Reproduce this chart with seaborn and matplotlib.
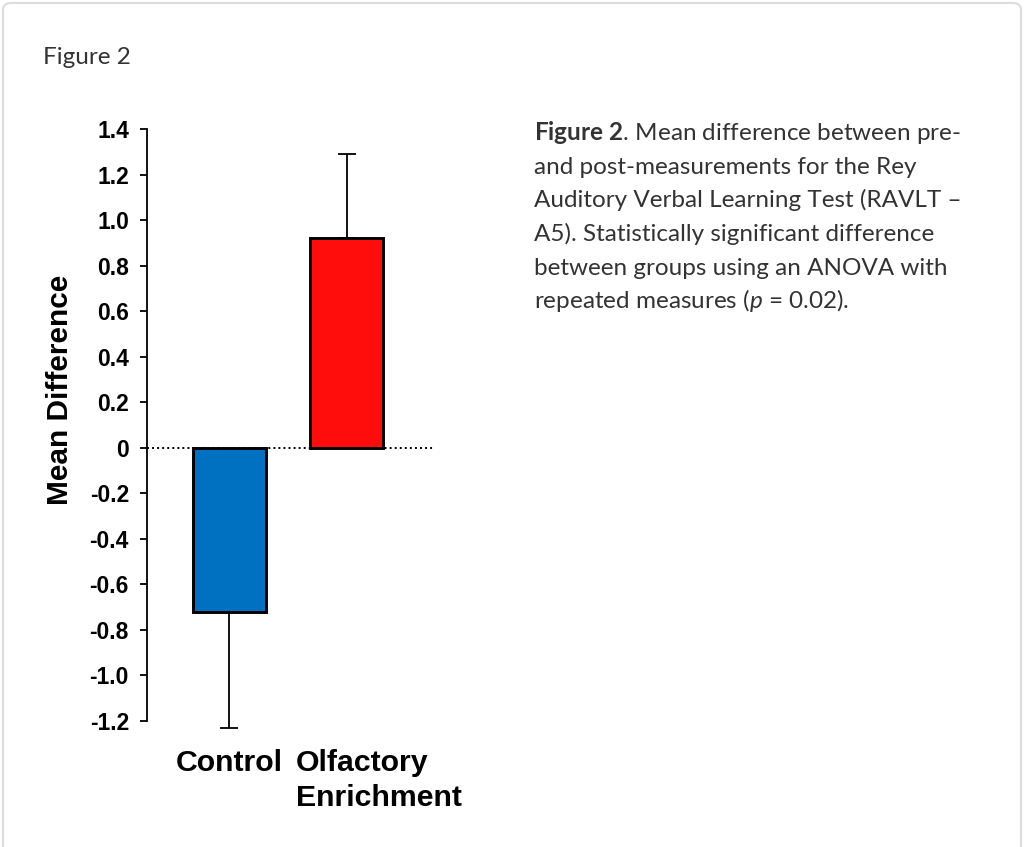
import matplotlib
matplotlib.use("Agg")
import matplotlib.pyplot as plt
import matplotlib.transforms as mtransforms
from matplotlib.patches import FancyBboxPatch
import seaborn as sns

# data
groups = ["Control", "Olfactory\nEnrichment"]
means = [-0.72, 0.92]
err_low = [0.51, 0.0]
err_high = [0.0, 0.37]
bar_colors = ["#0070C0", "#FF0D0D"]
yticks = [1.4, 1.2, 1.0, 0.8, 0.6, 0.4, 0.2, 0, -0.2, -0.4, -0.6, -0.8, -1.0, -1.2]
ytick_labels = ["1.4", "1.2", "1.0", "0.8", "0.6", "0.4", "0.2", "0",
                "-0.2", "-0.4", "-0.6", "-0.8", "-1.0", "-1.2"]

caption_lines = [
    r"$\mathbf{Figure\ 2}$. Mean difference between pre-",
    "and post-measurements for the Rey",
    "Auditory Verbal Learning Test (RAVLT \u2013",
    "A5). Statistically significant difference",
    "between groups using an ANOVA with",
    r"repeated measures ($\mathit{p}$ = 0.02).",
]

sns.set_style("white")
plt.rcParams["font.family"] = ["Liberation Sans", "DejaVu Sans"]
plt.rcParams["text.color"] = "black"
plt.rcParams["mathtext.fontset"] = "custom"
plt.rcParams["mathtext.rm"] = "Lato"
plt.rcParams["mathtext.it"] = "Lato:italic"
plt.rcParams["mathtext.bf"] = "Lato:bold"

W, H = 1024, 847
fig = plt.figure(figsize=(W / 100, H / 100), dpi=100)

# card border
card = FancyBboxPatch((3 / W, -0.05), 1018 / W, 1 - 3 / H + 0.05,
                      boxstyle="round,pad=0,rounding_size=0.008",
                      transform=fig.transFigure, facecolor="white",
                      edgecolor="#dcdcdc", linewidth=1.5, zorder=-5)
fig.patches.append(card)

ax = fig.add_axes([147 / W, (H - 721) / H, 288 / W, 592 / H])
ax.set_zorder(2)
ax.set_facecolor("none")

sns.barplot(x=groups, y=means, hue=groups, palette=bar_colors, legend=False,
            edgecolor="black", linewidth=2.1, width=0.62, saturation=1, ax=ax)
for p in ax.patches:
    p.set_zorder(3)

ax.errorbar(x=[0, 1], y=means, yerr=[err_low, err_high], fmt="none",
            ecolor="black", elinewidth=1.3, capsize=6.5, capthick=1.3,
            clip_on=False, zorder=1)

ax.axhline(0, color="black", lw=1.4, ls=(0, (1, 1.6)), zorder=2)

ax.set_xlim(-0.70, 1.75)
ax.set_ylim(-1.2, 1.4)
ax.set_yticks(yticks)
ax.set_yticklabels(ytick_labels, fontsize=16.5, fontweight="bold")
ax.tick_params(axis="y", direction="out", length=5, width=1.3, pad=8,
               left=True, colors="black", labelcolor="black")
ax.set_xticks([])
ax.set_xlabel("")
ax.set_ylabel("")
for s in ["top", "right", "bottom"]:
    ax.spines[s].set_visible(False)
ax.spines["left"].set_linewidth(1.3)
ax.spines["left"].set_color("black")

# category labels
trans = ax.get_xaxis_transform()
ax.text(0, -0.048, groups[0], transform=trans, ha="center", va="top",
        fontsize=21.8, fontweight="bold", color="black")
off = mtransforms.ScaledTranslation(-51 / 100, 0, fig.dpi_scale_trans)
ax.text(1, -0.048, groups[1], transform=trans + off, ha="left", va="top",
        fontsize=21.8, fontweight="bold", linespacing=1.28, color="black")

fig.text(60 / W, 1 - 390 / H, "Mean Difference", rotation=90, ha="center",
         va="center", fontsize=21.5, fontweight="bold", color="black")

# captions
fig.text(43 / W, 1 - 64 / H, "Figure 2", family="Lato", fontsize=17.5,
         color="#333333", va="baseline", ha="left")
for i, line in enumerate(caption_lines):
    fig.text(534 / W, 1 - (140 + i * 33.7) / H, line, family="Lato",
             fontsize=17.5, color="#333333", va="baseline", ha="left")

fig.savefig("out.png", dpi=100, facecolor="white")
